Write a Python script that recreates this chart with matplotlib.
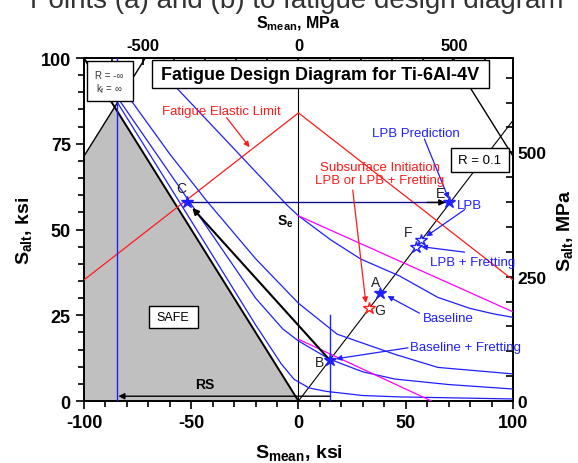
import matplotlib
matplotlib.use('Agg')
import matplotlib.pyplot as plt
from matplotlib.patches import Polygon, Rectangle
from matplotlib.ticker import MultipleLocator
import numpy as np

plt.rcParams['font.family'] = ['Liberation Sans', 'DejaVu Sans']
plt.rcParams['mathtext.fontset'] = 'custom'
plt.rcParams['mathtext.rm'] = 'Liberation Sans'
plt.rcParams['mathtext.bf'] = 'Liberation Sans:bold'
plt.rcParams['axes.linewidth'] = 1.4
plt.rcParams['axes.unicode_minus'] = False

MPA_PER_KSI = 6.894757
BLUE = '#1f1fff'
NAVY = '#10108a'
RED = '#ff1a1a'
PINK = '#ff00ff'

# ultimate strength lines and the safe region (ksi)
s_u = 171.4
safe_x = [-100, -100, -85.7, 0]
safe_y = [0, 71.4, 85.7, 0]

# fatigue elastic limit
fel_x = [-100, 0, 100]
fel_y = [35.3, 84.0, 35.3]

# blue design curves
top_x = [-68, -57, -30, -5, 0, 15, 29, 47, 65, 80, 91, 100]
top_y = [98.5, 91.4, 73.5, 56.9, 54, 47, 41.4, 36.5, 30.2, 27, 25.4, 24.4]
c2_x = [-79.5, -78, -60, -43, -20, 0, 18, 28, 45, 65, 100]
c2_y = [90, 87.6, 72, 58.5, 41.5, 28.5, 19.5, 17.3, 13.6, 9.8, 7.9]
c3_x = [-84.5, -83.4, -48.5, -20, -7.3, 0, 14.5, 30, 45, 70, 100]
c3_y = [90, 87.6, 56, 30, 21, 17.5, 12.2, 8.5, 6.4, 4.8, 3.5]
c4_x = [-86.5, -85, -50, -20, -8, -2, 5, 13, 30, 47, 100]
c4_y = [89.2, 87.6, 52.5, 22.2, 10.8, 6.3, 3.8, 2.8, 1.6, 1.2, 0.6]

# goodman-type lines
pink1_x = [0, 100]
pink1_y = [54, 26]
pink2_x = [0, 62]
pink2_y = [18, 0]

# R = 0.1 load line
r01_slope = 0.9 / 1.1

# test points
pts = {'A': (38.1, 31.5), 'B': (14.5, 12.0), 'C': (-52.0, 57.9), 'E': (70.4, 57.9)}
hollow_pts = [(57.2, 47.0), (54.9, 45.0)]
g_pt = (32.8, 27.0)

fig = plt.figure(figsize=(5.78, 4.64), dpi=100)
ax = fig.add_axes([0.1453, 0.1336, 0.7422, 0.7392])
ax.set_xlim(-100, 100)
ax.set_ylim(0, 100)

# caption line running off the top edge
fig.text(30 / 578, 1 - 8 / 464, 'Points (a) and (b) to fatigue design diagram',
         fontsize=20, color='#333333', ha='left', va='baseline')

ax.add_patch(Polygon(list(zip(safe_x, safe_y)), closed=True, fc='#c0c0c0', ec='none', zorder=1))

# black construction lines
ax.plot([-100, -100 + (100 - 71.4)], [71.4, 100], color='k', lw=1.0, zorder=3)
ax.plot([s_u - 100, 100], [100, s_u - 100], color='k', lw=1.0, zorder=3)
ax.plot([0, -100], [0, 100], color='k', lw=1.4, zorder=3)
ax.plot([0, 0], [0, 100], color='k', lw=0.8, zorder=2)
ax.plot([0, 100], [0, 100 * r01_slope], color='k', lw=0.8, zorder=3)

ax.plot(fel_x, fel_y, color=RED, lw=0.9, zorder=3)
for xs, ys in [(top_x, top_y), (c2_x, c2_y), (c3_x, c3_y), (c4_x, c4_y)]:
    ax.plot(xs, ys, color=BLUE, lw=0.9, zorder=3)
ax.plot(pink1_x, pink1_y, color=PINK, lw=0.9, zorder=3)
ax.plot(pink2_x, pink2_y, color=PINK, lw=0.9, zorder=3)

# vertical blue markers
ax.plot([-84.5, -84.5], [0, 100], color=BLUE, lw=1.0, zorder=3)
ax.plot([14.5, 14.5], [0, 25.1], color=BLUE, lw=1.0, zorder=3)

# arrows: RS, B->C, C->E
arr = dict(arrowstyle='-|>', color='k', lw=1.0, mutation_scale=9, shrinkA=0, shrinkB=0)
ax.annotate('', xy=(-84, 1.4), xytext=(14.5, 1.4), arrowprops=arr, zorder=4)
ax.annotate('', xy=(-49.5, 56.3), xytext=(14.5, 12.0),
            arrowprops=dict(arr, lw=1.5), zorder=4)
ax.plot([-52, 70], [57.9, 57.9], color=NAVY, lw=1.0, zorder=4)
ax.annotate('', xy=(68.5, 57.9), xytext=(60, 57.9), arrowprops=arr, zorder=4)

# star markers
for k, (x, y) in pts.items():
    ax.plot(x, y, marker='*', ms=9, color=BLUE, mec=BLUE, zorder=6, clip_on=False)
for x, y in hollow_pts:
    ax.plot(x, y, marker='*', ms=9, mfc='white', mec=BLUE, mew=1.0, zorder=6)
ax.plot(*g_pt, marker='*', ms=9, mfc='white', mec=RED, mew=1.0, zorder=6)

lab = dict(fontsize=10, color='#222222', ha='center', va='center', zorder=7)
ax.text(-54.5, 62.0, 'C', **lab)
ax.text(66.2, 60.6, 'E', **lab)
ax.text(51.3, 49.2, 'F', **lab)
ax.text(35.9, 34.6, 'A', **lab)
ax.text(37.9, 26.6, 'G', **lab)
ax.text(9.6, 11.3, 'B', **lab)

# callouts
def callout(text, tpos, tail, tip, color, size=9.5):
    ax.text(tpos[0], tpos[1], text, color=color, fontsize=size, ha='center',
            va='center', zorder=7, linespacing=1.15)
    ax.annotate('', xy=tip, xytext=tail, zorder=5,
                arrowprops=dict(arrowstyle='-|>', color=color, lw=0.9,
                                mutation_scale=8, shrinkA=0, shrinkB=0))

callout('LPB Prediction', (54.9, 78.1), (58.7, 76.4), (70.0, 59.0), BLUE)
callout('LPB', (79.8, 57.2), (77.5, 55.8), (59.5, 48.0), BLUE)
callout('LPB + Fretting', (81.2, 40.6), (77.4, 43.4), (57.3, 45.0), BLUE)
callout('Baseline', (69.8, 24.2), (56.4, 25.6), (41.5, 30.6), BLUE)
callout('Baseline + Fretting', (77.8, 15.8), (51.0, 15.5), (17.5, 12.3), BLUE)
callout('Subsurface Initiation\nLPB or LPB + Fretting', (38.0, 66.4), (25.3, 61.5),
        (31.4, 28.6), RED)
callout('Fatigue Elastic Limit', (-36.0, 84.6), (-33.5, 82.6), (-22.8, 74.0), RED)

ax.text(-6.0, 52.5, r'$\mathbf{S}_{\mathbf{e}}$', fontsize=10, ha='center', va='center', zorder=7)
ax.text(-43.8, 5.0, 'RS', fontsize=10, fontweight='bold', ha='center', va='center', zorder=7)

# boxed labels
def box(x0, x1, y0, y1):
    ax.add_patch(Rectangle((x0, y0), x1 - x0, y1 - y0, fc='white', ec='k', lw=1.0, zorder=8))

box(-68.5, 89.0, 91.2, 99.4)
ax.text(10.2, 95.2, 'Fatigue Design Diagram for Ti-6Al-4V', fontsize=13, fontweight='bold',
        ha='center', va='center', zorder=9)
box(-98.7, -77.3, 87.6, 99.2)
ax.text(-88.3, 95.0, 'R = -\u221e', fontsize=7, color='#333333', ha='center', va='center', zorder=9)
ax.text(-88.3, 91.2, r'k$_\mathregular{f}$ = $\infty$', fontsize=7, color='#333333',
        ha='center', va='center', zorder=9)
box(71.2, 98.0, 66.9, 73.7)
ax.text(84.6, 70.3, 'R = 0.1', fontsize=9.5, ha='center', va='center', zorder=9)
box(-69.8, -46.9, 21.2, 27.8)
ax.text(-58.4, 24.5, 'SAFE', fontsize=9, ha='center', va='center', zorder=9)

# ksi axes
ax.set_xticks([-100, -50, 0, 50, 100])
ax.set_yticks([0, 25, 50, 75, 100])
ax.xaxis.set_minor_locator(MultipleLocator(10))
ax.yaxis.set_minor_locator(MultipleLocator(5))
ax.tick_params(which='both', direction='out', top=False, right=False, width=1.2)
ax.tick_params(which='major', length=6, labelsize=13)
ax.tick_params(which='minor', length=4)
for t in ax.get_xticklabels() + ax.get_yticklabels():
    t.set_fontweight('bold')
ax.set_xlabel(r'$\mathbf{S}_{\mathbf{mean}}$, ksi', fontsize=14, fontweight='bold', labelpad=8)
ax.set_ylabel(r'$\mathbf{S}_{\mathbf{alt}}$, ksi', fontsize=14, fontweight='bold', labelpad=4)

# MPa axes
secx = ax.secondary_xaxis('top', functions=(lambda v: v * MPA_PER_KSI, lambda v: v / MPA_PER_KSI))
secx.set_xticks([-500, 0, 500])
secx.xaxis.set_minor_locator(MultipleLocator(100))
secx.tick_params(which='both', direction='in', width=1.2, length=5, labelsize=12)
for t in secx.get_xticklabels():
    t.set_fontweight('bold')
secx.set_xlabel(r'$\mathbf{S}_{\mathbf{mean}}$, MPa', fontsize=11.5, fontweight='bold', labelpad=8)

secy = ax.secondary_yaxis('right', functions=(lambda v: v * MPA_PER_KSI, lambda v: v / MPA_PER_KSI))
secy.set_yticks([0, 250, 500])
secy.yaxis.set_minor_locator(MultipleLocator(50))
secy.tick_params(which='both', direction='in', width=1.2, length=5, labelsize=12.5)
for t in secy.get_yticklabels():
    t.set_fontweight('bold')
secy.set_ylabel(r'$\mathbf{S}_{\mathbf{alt}}$, MPa', fontsize=14, fontweight='bold', labelpad=6)

fig.savefig('out.png', dpi=100)
